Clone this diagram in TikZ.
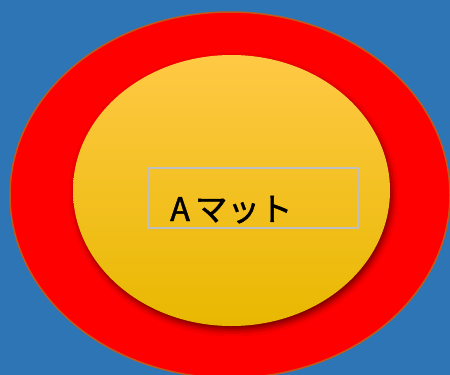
\documentclass[tikz,border=0pt]{standalone}
\usepackage{fontspec}
\newfontfamily\jpfont[FakeBold=1.5]{Noto Sans CJK JP}
\usetikzlibrary{shadows.blur}
\definecolor{bgblue}{HTML}{2E75B6}
\definecolor{ringred}{HTML}{FF0000}
\definecolor{ringedge}{HTML}{C05A1C}
\definecolor{mattop}{HTML}{FFC945}
\definecolor{matmid}{HTML}{FFC400}
\definecolor{matbot}{HTML}{E8B800}
\definecolor{boxgray}{HTML}{BFBFBF}
\begin{document}
\begin{tikzpicture}[x=1pt, y=-1pt, line join=round, font=\jpfont\fontsize{32.5}{38}\selectfont]
	\useasboundingbox (0,0) rectangle (450,375);
	\fill[bgblue] (0,0) rectangle (450,375);
	\draw[ringedge, line width=1.5pt, fill=ringred] (230,195) ellipse (220pt and 183pt);
	\path[top color=mattop, middle color=matmid, bottom color=matbot, blur shadow={shadow xshift=2pt, shadow yshift=-4pt, shadow blur radius=6pt, shadow opacity=55}] (231.5,190.5) ellipse (158.5pt and 135.5pt);
	\node[draw=boxgray, line width=1.2pt, minimum width=210pt, minimum height=60pt, inner sep=0pt] (matbox) at (253,198) {};
	\node[anchor=base west, inner sep=0pt] (mattext) at (170,221) {A\hspace{5pt}マット};
\end{tikzpicture}
\end{document}
